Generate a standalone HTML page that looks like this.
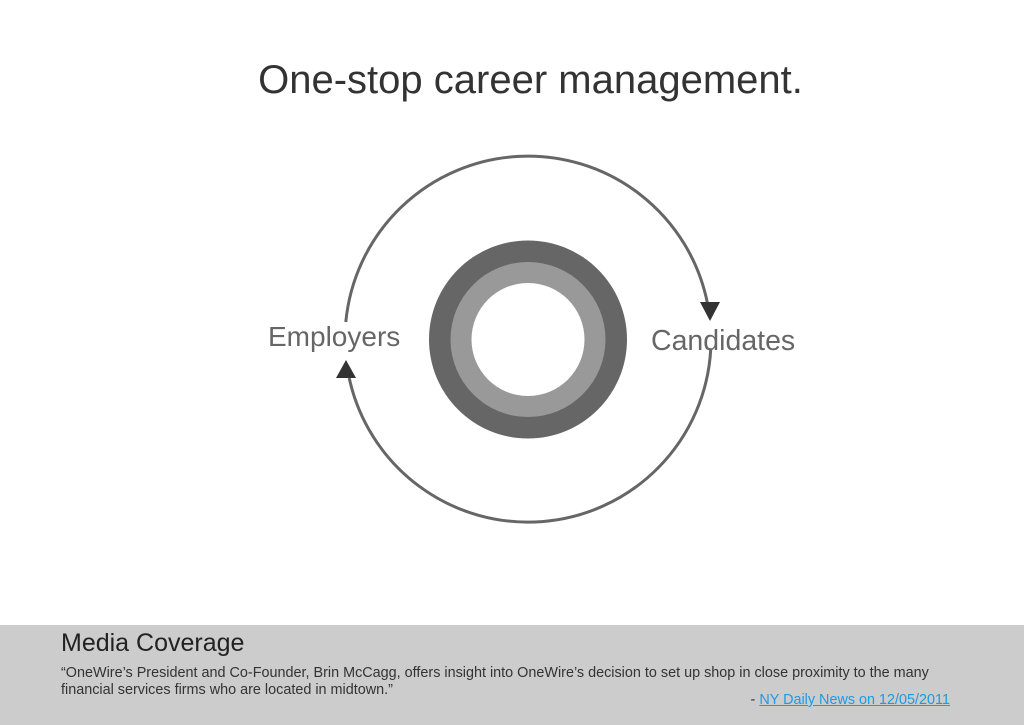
<!DOCTYPE html>
<html><head><meta charset="utf-8"><style>
body{margin:0;width:1024px;height:725px;background:#fff;font-family:"Liberation Sans",sans-serif;position:relative;overflow:hidden}
.t{position:absolute;white-space:nowrap}
</style></head><body>
<div class="t" style="left:0;width:1061px;text-align:center;top:58px;font-size:40px;color:#333">One-stop career management.</div>
<svg width="1024" height="625" style="position:absolute;left:0;top:0">
<circle cx="528" cy="339.5" r="99" fill="#666"/>
<circle cx="528" cy="339.5" r="77.5" fill="#999"/>
<circle cx="528" cy="339.5" r="56.5" fill="#fff"/>
<path d="M345.8 322 A183 183 0 0 1 707.4 303" fill="none" stroke="#666" stroke-width="3"/>
<path d="M710.7 350 A183 183 0 0 1 349.2 378" fill="none" stroke="#666" stroke-width="3"/>
<polygon points="700,302 720,302 710,321" fill="#333"/>
<polygon points="336,378 356,378 346,360" fill="#333"/>
</svg>
<div class="t" style="left:268px;top:321px;font-size:28px;color:#666">Employers</div>
<div class="t" style="left:651px;top:325px;font-size:28.5px;color:#666">Candidates</div>
<div style="position:absolute;left:0;top:625px;width:1024px;height:100px;background:#ccc">
<div class="t" style="left:61px;top:4px;font-size:25px;color:#222">Media Coverage</div>
<div class="t" style="left:61px;top:40px;font-size:14.4px;line-height:17px;color:#333">“OneWire’s President and Co-Founder, Brin McCagg, offers insight into OneWire’s decision to set up shop in close proximity to the many<br>financial services firms who are located in midtown.”</div>
<div class="t" style="right:74px;top:67px;font-size:14.4px;color:#333">- <a style="color:#1a9be6;text-decoration:underline">NY Daily News on 12/05/2011</a></div>
</div>
</body></html>
